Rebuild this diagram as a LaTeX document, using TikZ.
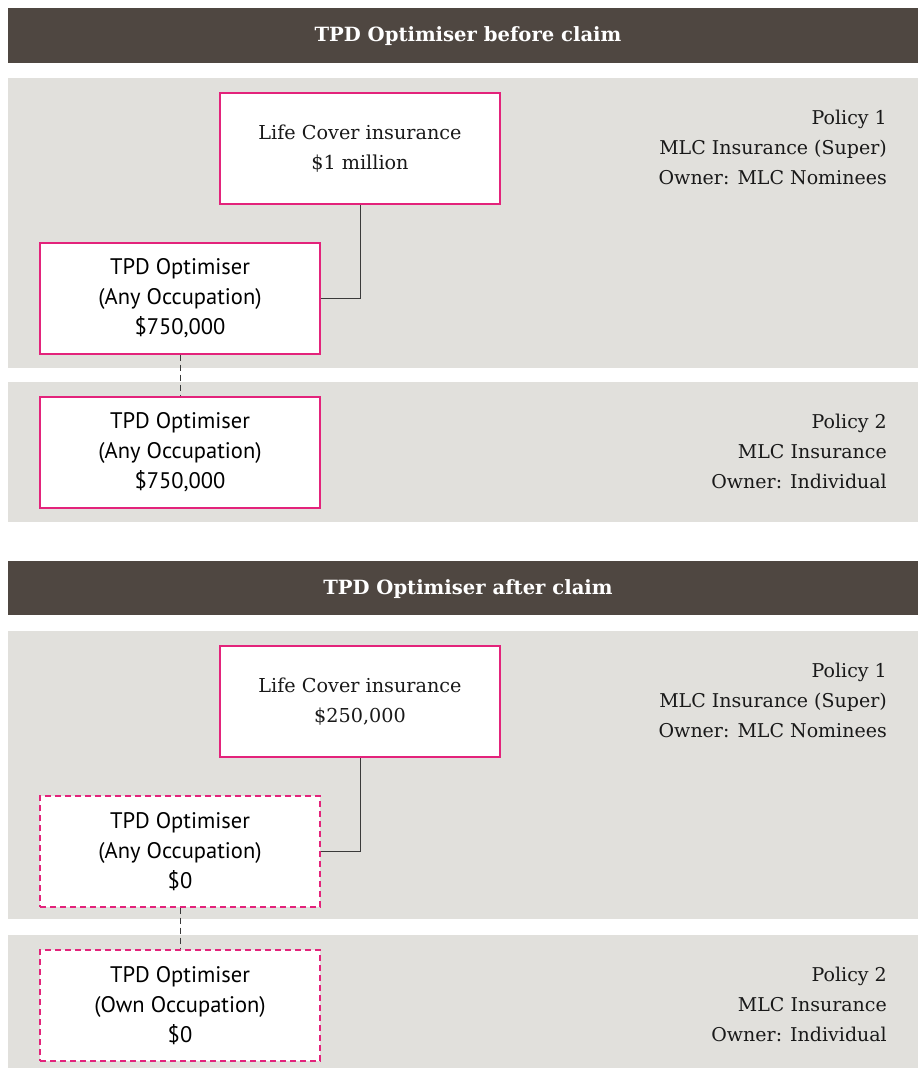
\documentclass[tikz,border=0pt]{standalone}
\usepackage{fontspec}
\setmainfont{DejaVu Serif}
\newfontfamily\boxsans{PT Sans}
\definecolor{headbg}{HTML}{4F4741}
\definecolor{panelbg}{HTML}{E1E0DC}
\definecolor{pinkline}{HTML}{E3237B}
\definecolor{conn}{HTML}{3A3A3A}
\tikzset{
  header/.style={fill=headbg, draw=none},
  panel/.style={fill=panelbg, draw=none},
  headtext/.style={text=white, font=\fontsize{19.6}{24}\selectfont\bfseries},
  box/.style={draw=pinkline, fill=white, line width=1.4pt, minimum width=280pt, minimum height=111pt, inner sep=0pt, align=center},
  dashbox/.style={box, dash pattern=on 6pt off 4pt},
  serifbox/.style={font=\fontsize{19.2}{30}\selectfont, text=black!90},
  sansbox/.style={font=\boxsans\fontsize{22.5}{30}\selectfont},
  policy/.style={anchor=east, align=right, inner sep=0pt, font=\fontsize{19}{30}\selectfont, text=black!90},
  link/.style={draw=conn, line width=1pt},
  dlink/.style={draw=conn, line width=1pt, dash pattern=on 6pt off 4pt}
}
\begin{document}
\begin{tikzpicture}[x=1pt,y=1pt]
\useasboundingbox (0,0) rectangle (918,-1068);
% backgrounds
\fill[header] (8,-8) rectangle (918,-63);
\fill[panel] (8,-78) rectangle (918,-368);
\fill[panel] (8,-382) rectangle (918,-522);
\fill[header] (8,-561) rectangle (918,-615);
\fill[panel] (8,-631) rectangle (918,-919);
\fill[panel] (8,-935) rectangle (918,-1068);
% headers
\node[headtext] (h1) at (468,-36) {TPD Optimiser before claim};
\node[headtext] (h2) at (468,-589) {TPD Optimiser after claim};
% before claim
\node[box, serifbox] (life1) at (360,-148.5) {Life Cover insurance\\\$1 million};
\node[box, sansbox] (tpd1) at (180,-298.5) {TPD Optimiser\\(Any Occupation)\\\$750,000};
\node[box, sansbox] (tpd2) at (180,-452.5) {TPD Optimiser\\(Any Occupation)\\\$750,000};
\node[policy] (p1a) at (887,-147) {Policy 1\\MLC Insurance (Super)\\Owner: MLC Nominees};
\node[policy] (p2a) at (887,-451) {Policy 2\\MLC Insurance\\Owner: Individual};
\draw[link] (tpd1.east) -| (life1.south);
\draw[dlink] (tpd1.south) -- (tpd2.north);
% after claim
\node[box, serifbox] (life2) at (360,-701.5) {Life Cover insurance\\\$250,000};
\node[dashbox, sansbox] (tpd3) at (180,-851.5) {TPD Optimiser\\(Any Occupation)\\\$0};
\node[dashbox, sansbox] (tpd4) at (180,-1005.5) {TPD Optimiser\\(Own Occupation)\\\$0};
\node[policy] (p1b) at (887,-700) {Policy 1\\MLC Insurance (Super)\\Owner: MLC Nominees};
\node[policy] (p2b) at (887,-1004) {Policy 2\\MLC Insurance\\Owner: Individual};
\draw[link] (tpd3.east) -| (life2.south);
\draw[dlink] (tpd3.south) -- (tpd4.north);
\end{tikzpicture}
\end{document}
